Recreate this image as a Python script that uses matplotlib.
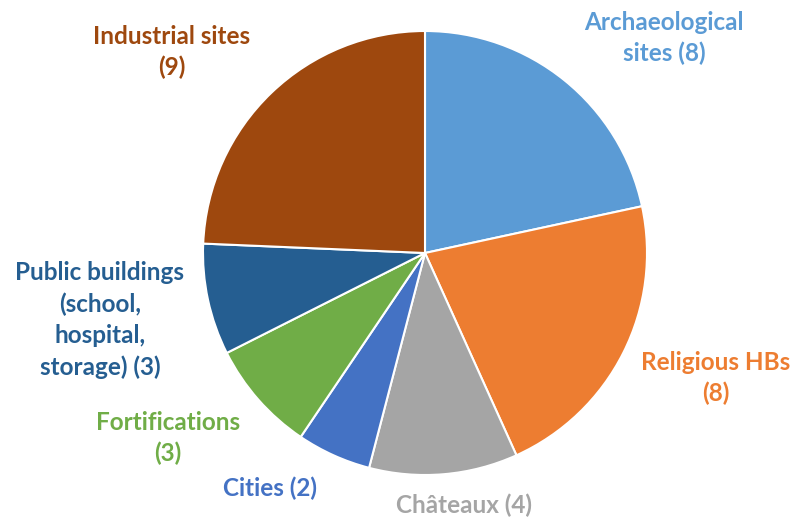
import matplotlib
matplotlib.use("Agg")
import matplotlib.pyplot as plt

categories = ["Archaeological\nsites (8)", "Religious HBs\n(8)", "Châteaux (4)", "Cities (2)",
              "Fortifications\n(3)", "Public buildings\n(school,\nhospital,\nstorage) (3)", "Industrial sites\n(9)"]
values = [8, 8, 4, 2, 3, 3, 9]
colors = ["#5B9BD5", "#ED7D31", "#A5A5A5", "#4472C4", "#70AD47", "#255E91", "#9E480E"]
label_pos = [(1.077, 0.968), (1.31, -0.563), (0.176, -1.135), (-0.698, -1.059),
             (-1.158, -0.833), (-1.464, -0.302), (-1.14, 0.905)]

plt.rcParams['font.family'] = ['Lato', 'DejaVu Sans']
fig = plt.figure(figsize=(7.97, 5.20), dpi=100)
ax = fig.add_axes([203/797, 45/520, 444/797, 444/520])
ax.pie(values, colors=colors, startangle=90, counterclock=False, radius=1,
       wedgeprops=dict(edgecolor="white", linewidth=1.5))
ax.set_xlim(-1, 1)
ax.set_ylim(-1, 1)
ax.set_aspect("equal")
ax.axis("off")
for lab, (x, y), c in zip(categories, label_pos, colors):
    ax.text(x, y, lab, color=c, fontsize=17.5, fontweight="bold", ha="center", va="center",
            linespacing=1.42, clip_on=False)
fig.savefig("out.png", dpi=100)
